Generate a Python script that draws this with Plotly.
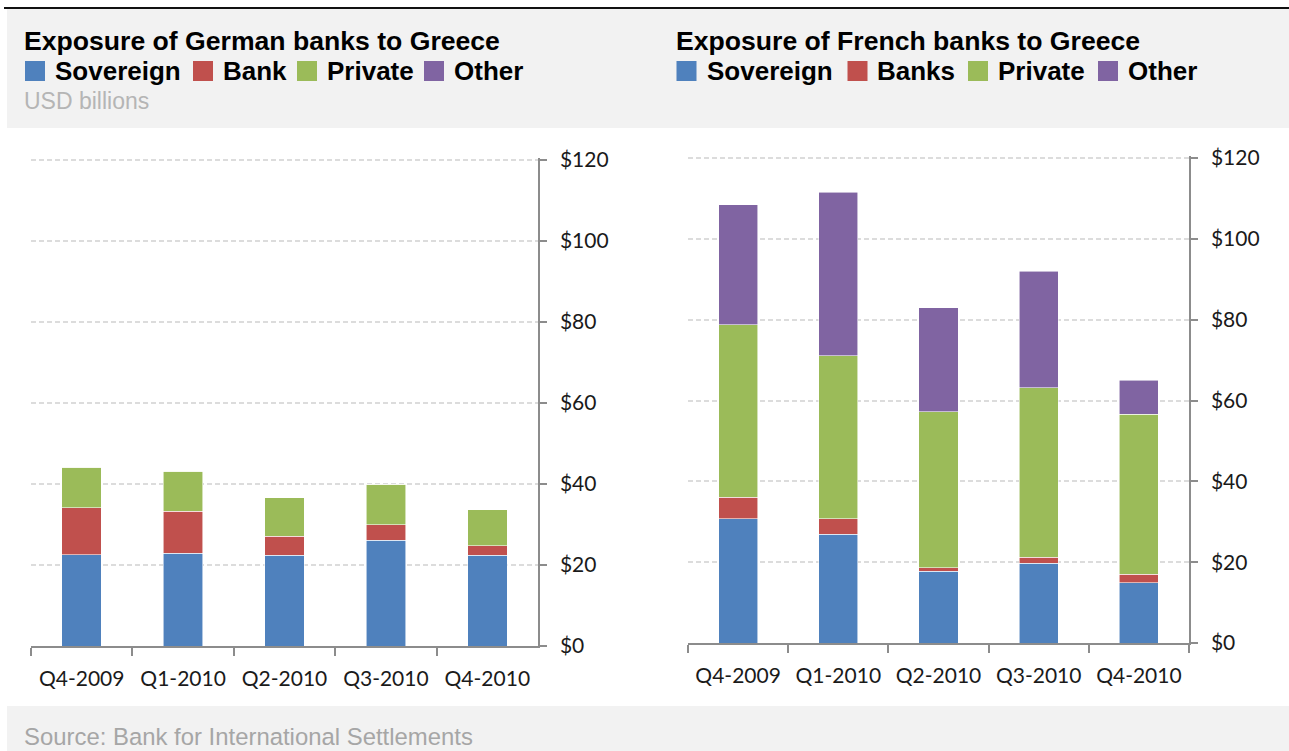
import plotly.graph_objects as go

quarters = ["Q4-2009", "Q1-2010", "Q2-2010", "Q3-2010", "Q4-2010"]

# German banks exposure to Greece (USD billions)
de_sovereign = [22.5, 22.9, 22.4, 26.1, 22.4]
de_bank = [11.6, 10.4, 4.7, 3.8, 2.3]
de_private = [10.0, 9.9, 9.5, 10.1, 9.0]
de_other = [0, 0, 0, 0, 0]

# French banks exposure to Greece (USD billions)
fr_sovereign = [30.7, 26.9, 17.8, 19.7, 14.9]
fr_banks = [5.4, 3.9, 0.8, 1.5, 2.1]
fr_private = [42.6, 40.3, 38.6, 41.9, 39.6]
fr_other = [29.7, 40.4, 25.7, 28.9, 8.4]

de_names = ["Sovereign", "Bank", "Private", "Other"]
fr_names = ["Sovereign", "Banks", "Private", "Other"]

y_ticks = [0, 20, 40, 60, 80, 100, 120]
y_ticktext = ["$0", "$20", "$40", "$60", "$80", "$100", "$120"]

colors = ["#4F81BD", "#C0504D", "#9BBB59", "#8064A2"]

W, H = 1289, 751
YMAX = 120.6


def px(x):
    return x / W


def py(y):
    return 1 - y / H


fig = go.Figure()

for vals, name, col in zip([de_sovereign, de_bank, de_private, de_other], de_names, colors):
    fig.add_trace(go.Bar(x=quarters, y=vals, name=name, marker=dict(color=col, line=dict(color="rgba(255,255,255,0.7)", width=0.8)),
                         width=0.39, xaxis="x", yaxis="y", showlegend=False))
for vals, name, col in zip([fr_sovereign, fr_banks, fr_private, fr_other], fr_names, colors):
    fig.add_trace(go.Bar(x=quarters, y=vals, name=name, marker=dict(color=col, line=dict(color="rgba(255,255,255,0.7)", width=0.8)),
                         width=0.39, xaxis="x2", yaxis="y2", showlegend=False))

tick_font = dict(family="Lato", size=21, color="#1a1a1a")
axis_col = "#8c8c8c"

xcommon = dict(type="category", range=[-0.5, 4.5], showline=True, linecolor=axis_col, linewidth=1.5,
               ticks="outside", tickson="boundaries", ticklen=8, tickcolor=axis_col, tickwidth=1.5,
               tickfont=tick_font, showgrid=False, automargin=False, fixedrange=True, ticklabelstandoff=13)
ycommon = dict(range=[0, YMAX], tickvals=y_ticks, ticktext=y_ticktext, side="right", showline=True,
               linecolor=axis_col, linewidth=1.5, ticks="outside", ticklen=7, tickcolor=axis_col, tickwidth=1.5,
               tickfont=tick_font, showgrid=True, gridcolor="#dcdcdc", griddash="5px,3px", gridwidth=1.8,
               zeroline=False, automargin=False, fixedrange=True, ticklabelstandoff=9)

# pixels per unit for each chart
ppu_l = (646 - 160) / 120
ppu_r = (643 - 158) / 120

shapes = [
    dict(type="rect", xref="paper", yref="paper", x0=px(7), x1=1, y0=py(128), y1=py(9),
         fillcolor="#f2f2f2", line=dict(width=0), layer="below"),
    dict(type="rect", xref="paper", yref="paper", x0=px(7), x1=1, y0=0, y1=py(706),
         fillcolor="#f2f2f2", line=dict(width=0), layer="below"),
    dict(type="line", xref="paper", yref="paper", x0=px(4), x1=1, y0=py(8), y1=py(8),
         line=dict(color="#111111", width=2)),
]

annotations = [
    dict(text="<b>Exposure of German banks to Greece</b>", x=px(22), y=py(41)),
    dict(text="<b>Exposure of French banks to Greece</b>", x=px(674), y=py(41)),
]
for a in annotations:
    a.update(xref="paper", yref="paper", xanchor="left", yanchor="middle", showarrow=False,
             font=dict(family="Liberation Sans", size=26.6, color="#000000"))

legend_left = [25, 193, 297, 424]
legend_right = [676.5, 847.5, 968, 1098]
for names, xs in [(de_names, legend_left), (fr_names, legend_right)]:
    for name, col, x0 in zip(names, colors, xs):
        shapes.append(dict(type="rect", xref="paper", yref="paper", x0=px(x0), x1=px(x0 + 20),
                           y0=py(81), y1=py(61), fillcolor=col, line=dict(width=0)))
        annotations.append(dict(text=f"<b>{name}</b>", x=px(x0 + 28), y=py(71), xref="paper", yref="paper",
                                xanchor="left", yanchor="middle", showarrow=False,
                                font=dict(family="Liberation Sans", size=26, color="#000000")))

annotations.append(dict(text="USD billions", x=px(22), y=py(101), xref="paper", yref="paper", xanchor="left",
                        yanchor="middle", showarrow=False, font=dict(family="Liberation Sans", size=23, color="#b5b5b5")))
annotations.append(dict(text="Source: Bank for International Settlements", x=px(22), y=py(736), xref="paper",
                        yref="paper", xanchor="left", yanchor="middle", showarrow=False,
                        font=dict(family="Liberation Sans", size=23.9, color="#a6a6a6")))

fig.update_layout(
    width=W, height=H, margin=dict(l=0, r=0, t=0, b=0),
    paper_bgcolor="white", plot_bgcolor="rgba(0,0,0,0)",
    barmode="stack",
    xaxis=dict(xcommon, domain=[px(31), px(538)], anchor="y"),
    yaxis=dict(ycommon, domain=[py(646), py(646 - YMAX * ppu_l)], anchor="x"),
    xaxis2=dict(xcommon, domain=[px(688), px(1189)], anchor="y2"),
    yaxis2=dict(ycommon, domain=[py(643), py(643 - YMAX * ppu_r)], anchor="x2"),
    shapes=shapes, annotations=annotations, showlegend=False,
)

fig.write_html("out.html")
